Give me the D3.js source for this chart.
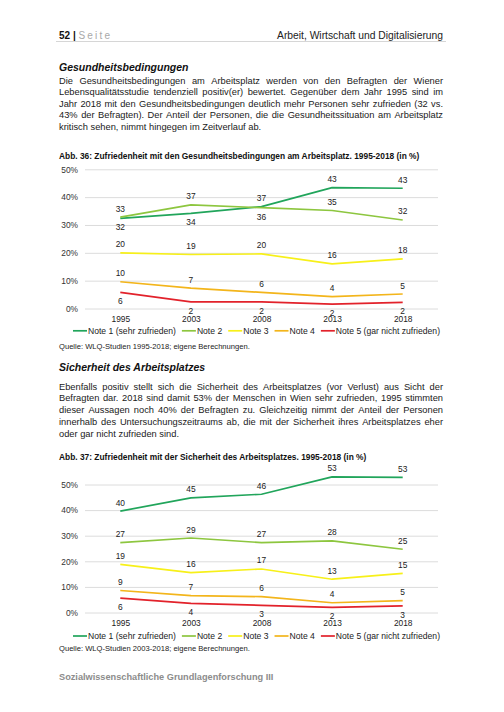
<!DOCTYPE html>
<html><head><meta charset="utf-8">
<script src="https://cdn.jsdelivr.net/npm/d3@7"></script>
<style>
html,body{margin:0;padding:0;background:#fff;}
svg{display:block;font-family:"Liberation Sans",Arial,sans-serif;}
</style></head>
<body>
<svg id="page" width="504" height="712"></svg>
<script>
// ---------- DATA ----------
const years = ["1995", "2003", "2008", "2013", "2018"];
const seriesNames = ["Note 1 (sehr zufrieden)", "Note 2", "Note 3", "Note 4", "Note 5 (gar nicht zufrieden)"];
const yTicks = [0, 10, 20, 30, 40, 50];

// Abb. 36: Gesundheitsbedingungen
const health1 = [32.4, 34.2, 36.6, 43.4, 43.2];
const health2 = [32.8, 37.2, 36.2, 35.2, 31.8];
const health3 = [20.0, 19.4, 19.6, 16.0, 17.8];
const health4 = [9.6, 7.3, 5.8, 4.3, 5.2];
const health5 = [5.8, 2.4, 2.4, 1.6, 2.2];

// Abb. 37: Sicherheit des Arbeitsplatzes
const secure1 = [39.6, 44.8, 46.2, 53.0, 52.8];
const secure2 = [27.3, 29.1, 27.3, 28.0, 24.7];
const secure3 = [18.8, 15.6, 17.0, 13.0, 15.3];
const secure4 = [8.6, 6.6, 6.2, 3.8, 4.6];
const secure5 = [5.6, 3.6, 2.8, 2.0, 2.6];

const title1 = "Abb. 36: Zufriedenheit mit den Gesundheitsbedingungen am Arbeitsplatz. 1995-2018 (in %)";
const title2 = "Abb. 37: Zufriedenheit mit der Sicherheit des Arbeitsplatzes. 1995-2018 (in %)";
const source1 = "Quelle: WLQ-Studien 1995-2018; eigene Berechnungen.";
const source2 = "Quelle: WLQ-Studien 2003-2018; eigene Berechnungen.";

const para1 = [
  "Die Gesundheitsbedingungen am Arbeitsplatz werden von den Befragten der Wiener",
  "Lebensqualitätsstudie tendenziell positiv(er) bewertet. Gegenüber dem Jahr 1995 sind im",
  "Jahr 2018 mit den Gesundheitsbedingungen deutlich mehr Personen sehr zufrieden (32 vs.",
  "43% der Befragten). Der Anteil der Personen, die die Gesundheitssituation am Arbeitsplatz",
  "kritisch sehen, nimmt hingegen im Zeitverlauf ab."
];
const para2 = [
  "Ebenfalls positiv stellt sich die Sicherheit des Arbeitsplatzes (vor Verlust) aus Sicht der",
  "Befragten dar. 2018 sind damit 53% der Menschen in Wien sehr zufrieden, 1995 stimmten",
  "dieser Aussagen noch 40% der Befragten zu. Gleichzeitig nimmt der Anteil der Personen",
  "innerhalb des Untersuchungszeitraums ab, die mit der Sicherheit ihres Arbeitsplatzes eher",
  "oder gar nicht zufrieden sind."
];

// ---------- STYLE ----------
const colors = ["#21a55b", "#8dc63f", "#f7f019", "#f3b51b", "#e2222b"];
const svg = d3.select("#page");
const L = 59, R = 443;

// header
const hdr = svg.append("text").attr("x", L).attr("y", 38.5).attr("font-size", 10);
hdr.append("tspan").attr("font-weight", "bold").attr("fill", "#111").text("52 | ");
hdr.append("tspan").attr("fill", "#a9a9a9").attr("letter-spacing", 2.2).text("Seite");
svg.append("text").attr("x", R).attr("y", 38.5).attr("text-anchor", "end")
  .attr("font-size", 10.3).attr("fill", "#222").text("Arbeit, Wirtschaft und Digitalisierung");
svg.append("line").attr("x1", 56).attr("x2", 446).attr("y1", 41.5).attr("y2", 41.5)
  .attr("stroke", "#d6d6d6").attr("stroke-width", 1);

function heading(txt, y) {
  svg.append("text").attr("x", L).attr("y", y).attr("font-size", 10.5)
    .attr("font-weight", "bold").attr("font-style", "italic").attr("fill", "#111").text(txt);
}
function paragraph(lines, y0, lh) {
  lines.forEach((line, i) => {
    const y = y0 + i * lh;
    const words = line.split(" ");
    const g = svg.append("g");
    const nodes = words.map(w => g.append("text").attr("font-size", 9.3).attr("fill", "#1a1a1a")
      .attr("y", y).text(w));
    const widths = nodes.map(n => n.node().getComputedTextLength());
    const sum = d3.sum(widths);
    const last = i === lines.length - 1;
    const gap = last ? 2.6 : (R - L - sum) / (words.length - 1);
    let x = L;
    nodes.forEach((n, k) => { n.attr("x", x); x += widths[k] + gap; });
  });
}

heading("Gesundheitsbedingungen", 70.5);
paragraph(para1, 83.5, 11.55);
heading("Sicherheit des Arbeitsplatzes", 371);
paragraph(para2, 389.5, 11.8);

// ---------- CHART ----------
function chart(opt) {
  const series = opt.data.map((vals, i) => ({ name: seriesNames[i], color: colors[i], vals, idx: i }));
  const x = d3.scalePoint().domain(years).range([85, 438]).padding(0.5);
  const y = d3.scaleLinear().domain([0, 50]).range([opt.y0, opt.y50]);
  const g = svg.append("g");

  svg.append("text").attr("x", L).attr("y", opt.titleY).attr("font-size", 8.4)
    .attr("font-weight", "bold").attr("fill", "#111").text(opt.title);

  const ya = g.append("g").attr("transform", "translate(85,0)")
    .call(d3.axisLeft(y).tickValues(yTicks).tickFormat(d => d + "%").tickSize(-353).tickPadding(7));
  ya.select(".domain").remove();
  ya.selectAll("line").attr("stroke", "#dcdcdc").attr("stroke-width", 1);
  ya.selectAll("text").attr("font-size", 8.4).attr("fill", "#333")
    .attr("font-family", "Liberation Sans, Arial, sans-serif");

  const xa = g.append("g").attr("transform", `translate(0,${opt.y0})`)
    .call(d3.axisBottom(x).tickSize(0).tickPadding(8));
  xa.select(".domain").remove();
  xa.selectAll("text").attr("font-size", 8.4).attr("fill", "#222")
    .attr("font-family", "Liberation Sans, Arial, sans-serif");

  const line = d3.line().x((d, i) => x(years[i])).y(d => y(d));
  g.selectAll("path.s").data(series).join("path").attr("class", "s")
    .attr("d", s => line(s.vals)).attr("fill", "none").attr("stroke", s => s.color)
    .attr("stroke-width", 1.7).attr("stroke-linejoin", "round");

  const fmt = d3.format(".0f");
  const last = series.length - 1;
  series.forEach(s => {
    s.vals.forEach((v, i) => {
      const below = s.idx === last || series.some(o => o.idx !== last && o.idx !== s.idx &&
        o.vals[i] > v && o.vals[i] - v < 5);
      g.append("text").attr("x", x(years[i])).attr("y", y(v) + (below ? 12 : -5.5))
        .attr("text-anchor", "middle").attr("font-size", 8.4).attr("fill", "#222").text(fmt(v));
    });
  });

  // legend
  const lg = g.append("g").attr("transform", `translate(0,${opt.legendY})`);
  let lx = 0;
  series.forEach(s => {
    const it = lg.append("g");
    it.append("line").attr("x1", 0).attr("x2", 14).attr("y1", -3).attr("y2", -3)
      .attr("stroke", s.color).attr("stroke-width", 1.7);
    const t = it.append("text").attr("x", 15).attr("font-size", 8.6).attr("fill", "#222").text(s.name);
    const w = 15 + t.node().getComputedTextLength();
    it.attr("transform", `translate(${lx},0)`);
    lx += w + 6;
  });
  const total = lx - 6;
  lg.attr("transform", `translate(${256.5 - total / 2},${opt.legendY})`);

  svg.append("text").attr("x", L).attr("y", opt.sourceY).attr("font-size", 7.6)
    .attr("fill", "#222").text(opt.source);
}

chart({ data: [health1, health2, health3, health4, health5], y0: 308.5, y50: 169.3,
  title: title1, titleY: 158.5, legendY: 333.8, source: source1, sourceY: 348.5 });
chart({ data: [secure1, secure2, secure3, secure4, secure5], y0: 612.5, y50: 484.5,
  title: title2, titleY: 459.5, legendY: 639, source: source2, sourceY: 650.5 });

svg.append("text").attr("x", L).attr("y", 680).attr("font-size", 9.2).attr("font-weight", "bold")
  .attr("fill", "#8c8c8c").text("Sozialwissenschaftliche Grundlagenforschung III");
</script>
</body></html>
